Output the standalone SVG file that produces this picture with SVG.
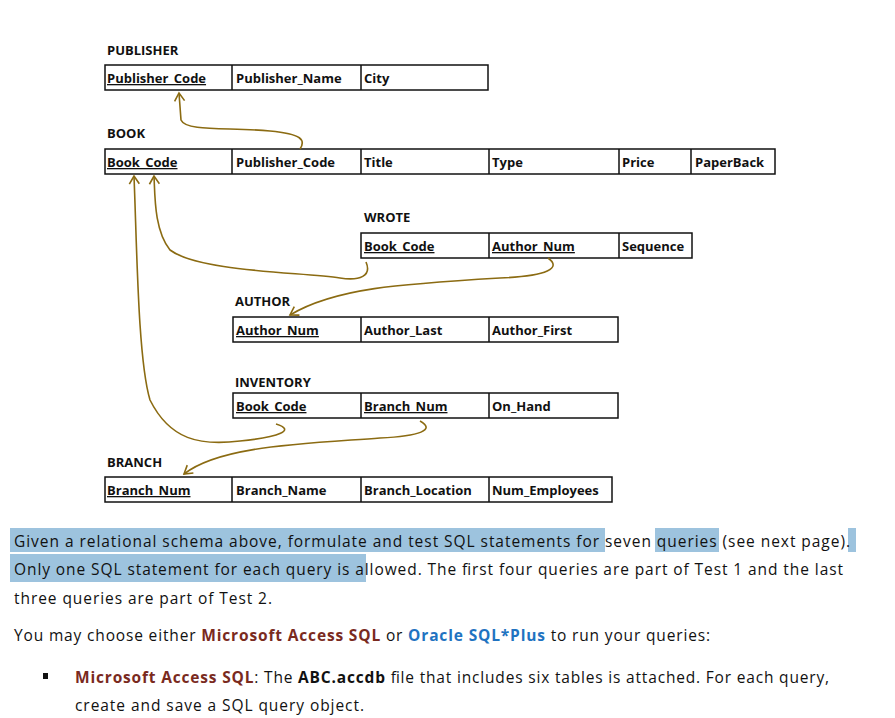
<svg xmlns="http://www.w3.org/2000/svg" width="895" height="718" viewBox="0 0 895 718">
<style>
.t{font-family:"Open Sans","Liberation Sans",sans-serif;font-weight:bold;font-size:13px;fill:#111}
.k{text-decoration:underline}
.cell{fill:none;stroke:#111;stroke-width:1.5}
.p{font-family:"Open Sans","Liberation Sans",sans-serif;font-size:15.5px;fill:#111}
.c{fill:none;stroke:#8B6B12;stroke-width:1.6}
.hl{fill:#9DC3DE}
</style>
<defs><marker id="a" markerWidth="12" markerHeight="12" refX="10" refY="6" orient="auto" markerUnits="userSpaceOnUse"><path d="M2,1 L10,6 L2,11" fill="none" stroke="#8B6B12" stroke-width="1.6"/></marker></defs>
<rect width="895" height="718" fill="#fff"/>
<g id="publisher">
<text class="t" x="107" y="55">PUBLISHER</text>
<rect class="cell" x="105" y="65" width="383" height="25"/>
<path class="cell" d="M232,65V90M361,65V90"/>
<text class="t k" x="107" y="83">Publisher_Code</text><text class="t" x="236" y="83">Publisher_Name</text><text class="t" x="364" y="83">City</text>
</g>
<g id="book">
<text class="t" x="107" y="138">BOOK</text>
<rect class="cell" x="105" y="149" width="670" height="25"/>
<path class="cell" d="M232,149V174M361,149V174M489,149V174M619,149V174M691,149V174"/>
<text class="t k" x="107" y="167">Book_Code</text><text class="t" x="236" y="167">Publisher_Code</text><text class="t" x="364" y="167">Title</text><text class="t" x="492" y="167">Type</text><text class="t" x="622" y="167">Price</text><text class="t" x="695" y="167">PaperBack</text>
</g>
<g id="wrote">
<text class="t" x="364" y="222">WROTE</text>
<rect class="cell" x="361" y="233" width="331" height="25"/>
<path class="cell" d="M489,233V258M619,233V258"/>
<text class="t k" x="364" y="251">Book_Code</text><text class="t k" x="492" y="251">Author_Num</text><text class="t" x="622" y="251">Sequence</text>
</g>
<g id="author">
<text class="t" x="235" y="306">AUTHOR</text>
<rect class="cell" x="233" y="317" width="385" height="25"/>
<path class="cell" d="M361,317V342M489,317V342"/>
<text class="t k" x="236" y="335">Author_Num</text><text class="t" x="364" y="335">Author_Last</text><text class="t" x="492" y="335">Author_First</text>
</g>
<g id="inventory">
<text class="t" x="235" y="387">INVENTORY</text>
<rect class="cell" x="233" y="393" width="385" height="25"/>
<path class="cell" d="M361,393V418M489,393V418"/>
<text class="t k" x="236" y="411">Book_Code</text><text class="t k" x="364" y="411">Branch_Num</text><text class="t" x="492" y="411">On_Hand</text>
</g>
<g id="branch">
<text class="t" x="107" y="467">BRANCH</text>
<rect class="cell" x="105" y="477" width="507" height="25"/>
<path class="cell" d="M232,477V502M361,477V502M489,477V502"/>
<text class="t k" x="107" y="495">Branch_Num</text><text class="t" x="236" y="495">Branch_Name</text><text class="t" x="364" y="495">Branch_Location</text><text class="t" x="492" y="495">Num_Employees</text>
</g>
<g id="connectors">
<path class="c" marker-end="url(#a)" d="M300,149 C306,140 302,134 270,131 C230,127 186,132 181,120 L179,93"/>
<path class="c" marker-end="url(#a)" d="M366,262 C372,276 360,281 340,278 C300,272 200,272 170,250 C154,230 155,195 154,176"/>
<path class="c" marker-end="url(#a)" d="M548,258 C562,268 548,276 500,278 C400,284 335,288 290,315"/>
<path class="c" marker-end="url(#a)" d="M276,424 C296,430 280,437 240,441 C200,446 170,440 150,400 C138,360 137,250 134,176"/>
<path class="c" marker-end="url(#a)" d="M420,421 C436,430 420,436 380,438 C300,444 220,446 184,474"/>
</g>
<g id="text">
<rect class="hl" x="10" y="528" width="595" height="24"/>
<rect class="hl" x="655" y="528" width="64" height="24"/>
<rect class="hl" x="848" y="528" width="8" height="24"/>
<rect class="hl" x="10" y="554" width="356" height="28"/>
<text class="p" x="14" y="547" textLength="836">Given a relational schema above, formulate and test SQL statements for seven queries (see next page).</text>
<text class="p" x="14" y="575" textLength="829">Only one SQL statement for each query is allowed. The first four queries are part of Test 1 and the last</text>
<text class="p" x="14" y="604" textLength="258">three queries are part of Test 2.</text>
<text class="p" x="14" y="641" textLength="696">You may choose either <tspan font-weight="bold" fill="#7A2A1E">Microsoft Access SQL</tspan> or <tspan font-weight="bold" fill="#1F73C1">Oracle SQL*Plus</tspan> to run your queries:</text>
<rect x="43" y="673" width="5" height="6" fill="#111"/>
<text class="p" x="75" y="683" textLength="754"><tspan font-weight="bold" fill="#7A2A1E">Microsoft Access SQL</tspan>: The <tspan font-weight="bold">ABC.accdb</tspan> file that includes six tables is attached. For each query,</text>
<text class="p" x="75" y="711" textLength="289">create and save a SQL query object.</text>
</g>
</svg>
